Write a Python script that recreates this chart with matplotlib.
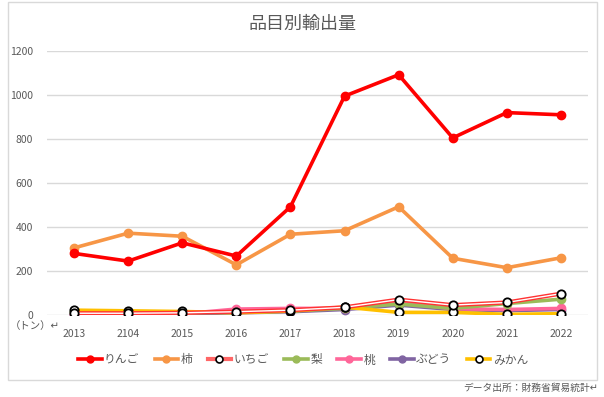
import matplotlib.pyplot as plt
from matplotlib.patches import Rectangle
from matplotlib.lines import Line2D

plt.rcParams["font.family"] = ["Noto Sans CJK JP", "DejaVu Sans"]

years = ["2013", "2104", "2015", "2016", "2017", "2018", "2019", "2020", "2021", "2022"]
ringo = [280, 245, 328, 268, 492, 995, 1092, 805, 920, 910]
kaki = [305, 372, 358, 228, 367, 383, 492, 258, 215, 260]
ichigo = [8, 8, 10, 15, 22, 35, 70, 45, 57, 97]
nashi = [15, 12, 10, 12, 18, 30, 50, 30, 52, 72]
momo = [5, 5, 5, 27, 30, 30, 58, 28, 25, 30]
budou = [2, 2, 5, 10, 15, 25, 45, 25, 20, 25]
mikan = [22, 19, 16, 10, 18, 36, 12, 12, 3, 6]

grey = "#595959"
fig = plt.figure(figsize=(6.04, 3.97), dpi=100)
fig.patches.append(Rectangle((8 / 604, 1 - 380 / 397), 589 / 604, 378 / 397,
                             transform=fig.transFigure, fill=False,
                             edgecolor="#d9d9d9", linewidth=1))
ax = fig.add_axes([47 / 604, 1 - 315 / 397, 541 / 604, 264 / 397])
x = range(len(years))

lw = 2.6
ms = 6
ax.plot(x, budou, color="#8064a2", lw=lw, marker="o", ms=ms, label="ぶどう", zorder=3)
ax.plot(x, momo, color="#ff6699", lw=lw, marker="o", ms=ms, label="桃", zorder=3)
ax.plot(x, nashi, color="#9bbb59", lw=lw, marker="o", ms=ms, label="梨", zorder=3)
ax.plot(x, mikan, color="#ffc000", lw=lw, marker="o", ms=ms, mfc="white",
        mec="black", mew=1.3, label="みかん", zorder=4)
# いちご: red line with a white core
ax.plot(x, ichigo, color="#ff3333", lw=3, zorder=5)
ax.plot(x, ichigo, color="white", lw=1, zorder=5)
ax.plot(x, ichigo, color="none", lw=0, marker="o", ms=ms, mfc="white",
        mec="black", mew=1.3, zorder=6)
ax.plot(x, kaki, color="#f79646", lw=lw, marker="o", ms=ms, label="柿", zorder=6)
ax.plot(x, ringo, color="#ff0000", lw=lw, marker="o", ms=ms, label="りんご", zorder=7)

ax.set_xlim(-0.5, 9.5)
ax.set_ylim(0, 1200)
ax.set_yticks(range(0, 1201, 200))
ax.set_xticks(list(x))
ax.set_xticklabels(years)
ax.grid(axis="y", color="#d9d9d9", lw=1)
ax.set_axisbelow(True)
for s in ax.spines.values():
    s.set_visible(False)
ax.tick_params(length=0, colors=grey, labelsize=7.5)
ax.tick_params(axis="y", pad=10)
ax.tick_params(axis="x", pad=10)

fig.text(302 / 604, 1 - 24 / 397, "品目別輸出量", ha="center", va="center",
         fontsize=13, color=grey)
fig.text(10 / 604, 1 - 326 / 397, "（トン）↵", ha="left", va="center",
         fontsize=7.5, color=grey)
fig.text(598 / 604, 1 - 388 / 397, "データ出所：財務省貿易統計↵", ha="right",
         va="center", fontsize=7, color=grey)

# legend proxies
lms = 5
handles = [
    Line2D([], [], color="#ff0000", lw=lw, marker="o", ms=lms),
    Line2D([], [], color="#f79646", lw=lw, marker="o", ms=lms),
    Line2D([], [], color="#ff6666", lw=3, marker="o", ms=lms, mfc="white", mec="black", mew=1.2),
    Line2D([], [], color="#9bbb59", lw=lw, marker="o", ms=lms),
    Line2D([], [], color="#ff6699", lw=lw, marker="o", ms=lms),
    Line2D([], [], color="#8064a2", lw=lw, marker="o", ms=lms),
    Line2D([], [], color="#ffc000", lw=lw, marker="o", ms=lms, mfc="white", mec="black", mew=1.2),
]
labels = ["りんご", "柿", "いちご", "梨", "桃", "ぶどう", "みかん"]
fig.legend(handles, labels, loc="center", bbox_to_anchor=(303 / 604, 1 - 360 / 397),
           ncol=7, frameon=False, fontsize=8.5, handlelength=2.0, handletextpad=0.2,
           columnspacing=1.3, labelcolor=grey)

fig.savefig("out.png", dpi=100)
